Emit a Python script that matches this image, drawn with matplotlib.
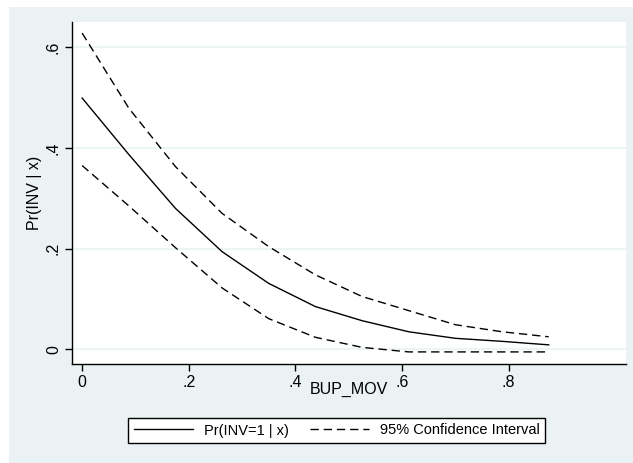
import matplotlib
matplotlib.use("Agg")
import matplotlib.pyplot as plt
from matplotlib.patches import Rectangle

BG = "#eaf2f3"

bup_mov = [0.0, 0.0875, 0.175, 0.2625, 0.35, 0.4375, 0.525, 0.6125, 0.70, 0.7875, 0.875]
pr_inv = [0.499, 0.387, 0.280, 0.194, 0.131, 0.085, 0.057, 0.035, 0.022, 0.016, 0.009]
ci_upper = [0.628, 0.479, 0.363, 0.270, 0.204, 0.148, 0.105, 0.077, 0.049, 0.035, 0.025]
ci_lower = [0.365, 0.285, 0.202, 0.122, 0.061, 0.024, 0.004, -0.005, -0.005, -0.005, -0.005]

x_ticks = [0, 0.2, 0.4, 0.6, 0.8]
x_ticklabels = ["0", ".2", ".4", ".6", ".8"]
y_ticks = [0, 0.2, 0.4, 0.6]
y_ticklabels = ["0", ".2", ".4", ".6"]

plt.rcParams["font.family"] = ["Liberation Sans", "DejaVu Sans"]

W, H = 633, 463
fig = plt.figure(figsize=(W / 100, H / 100), dpi=100, facecolor="white")
# graph region background (Stata s2color style), behind the axes
bg = Rectangle((9 / W, 0), 1 - 9 / W, (H - 7) / H, transform=fig.transFigure,
               facecolor=BG, edgecolor="none", zorder=-10)
fig.patches.append(bg)

ax = fig.add_axes([72 / W, (H - 364) / H, (626 - 72) / W, (364 - 22) / H])
ax.set_facecolor("white")

for y in y_ticks:
    ax.axhline(y, color=BG, lw=1.2, zorder=1)

dash = (0, (6, 3.5))
ax.plot(bup_mov, pr_inv, color="black", lw=1.0, label="Pr(INV=1 | x)", zorder=3)
ax.plot(bup_mov, ci_upper, color="black", lw=1.0, linestyle=dash,
        label="95% Confidence Interval", zorder=3)
ax.plot(bup_mov, ci_lower, color="black", lw=1.0, linestyle=dash, zorder=3)

ax.set_xlim(-0.019, 1.02)
ax.set_ylim(-0.029, 0.650)

ax.set_xticks(x_ticks)
ax.set_xticklabels(x_ticklabels)
ax.set_yticks(y_ticks)
ax.set_yticklabels(y_ticklabels, rotation=90, va="center")
ax.tick_params(axis="both", direction="out", length=5, width=1.0,
               labelsize=11.5, pad=3, color="black")

for side in ["top", "right"]:
    ax.spines[side].set_visible(False)
for side in ["left", "bottom"]:
    ax.spines[side].set_linewidth(1.0)

ax.set_xlabel("BUP_MOV", fontsize=11.5, labelpad=-6)
ax.set_ylabel("Pr(INV | x)", fontsize=11.5, labelpad=3)

leg = fig.legend(loc="center", bbox_to_anchor=(336.5 / W, (H - 430.5) / H),
                 ncol=2, frameon=True, fancybox=False, fontsize=10.5,
                 handlelength=4.05, columnspacing=1.45, handletextpad=0.75,
                 borderpad=0.4, borderaxespad=0)
leg.get_frame().set_edgecolor("black")
leg.get_frame().set_linewidth(1.0)
leg.get_frame().set_facecolor("white")
leg.get_frame().set_alpha(1.0)

fig.savefig("out.png", dpi=100, facecolor=fig.get_facecolor())
